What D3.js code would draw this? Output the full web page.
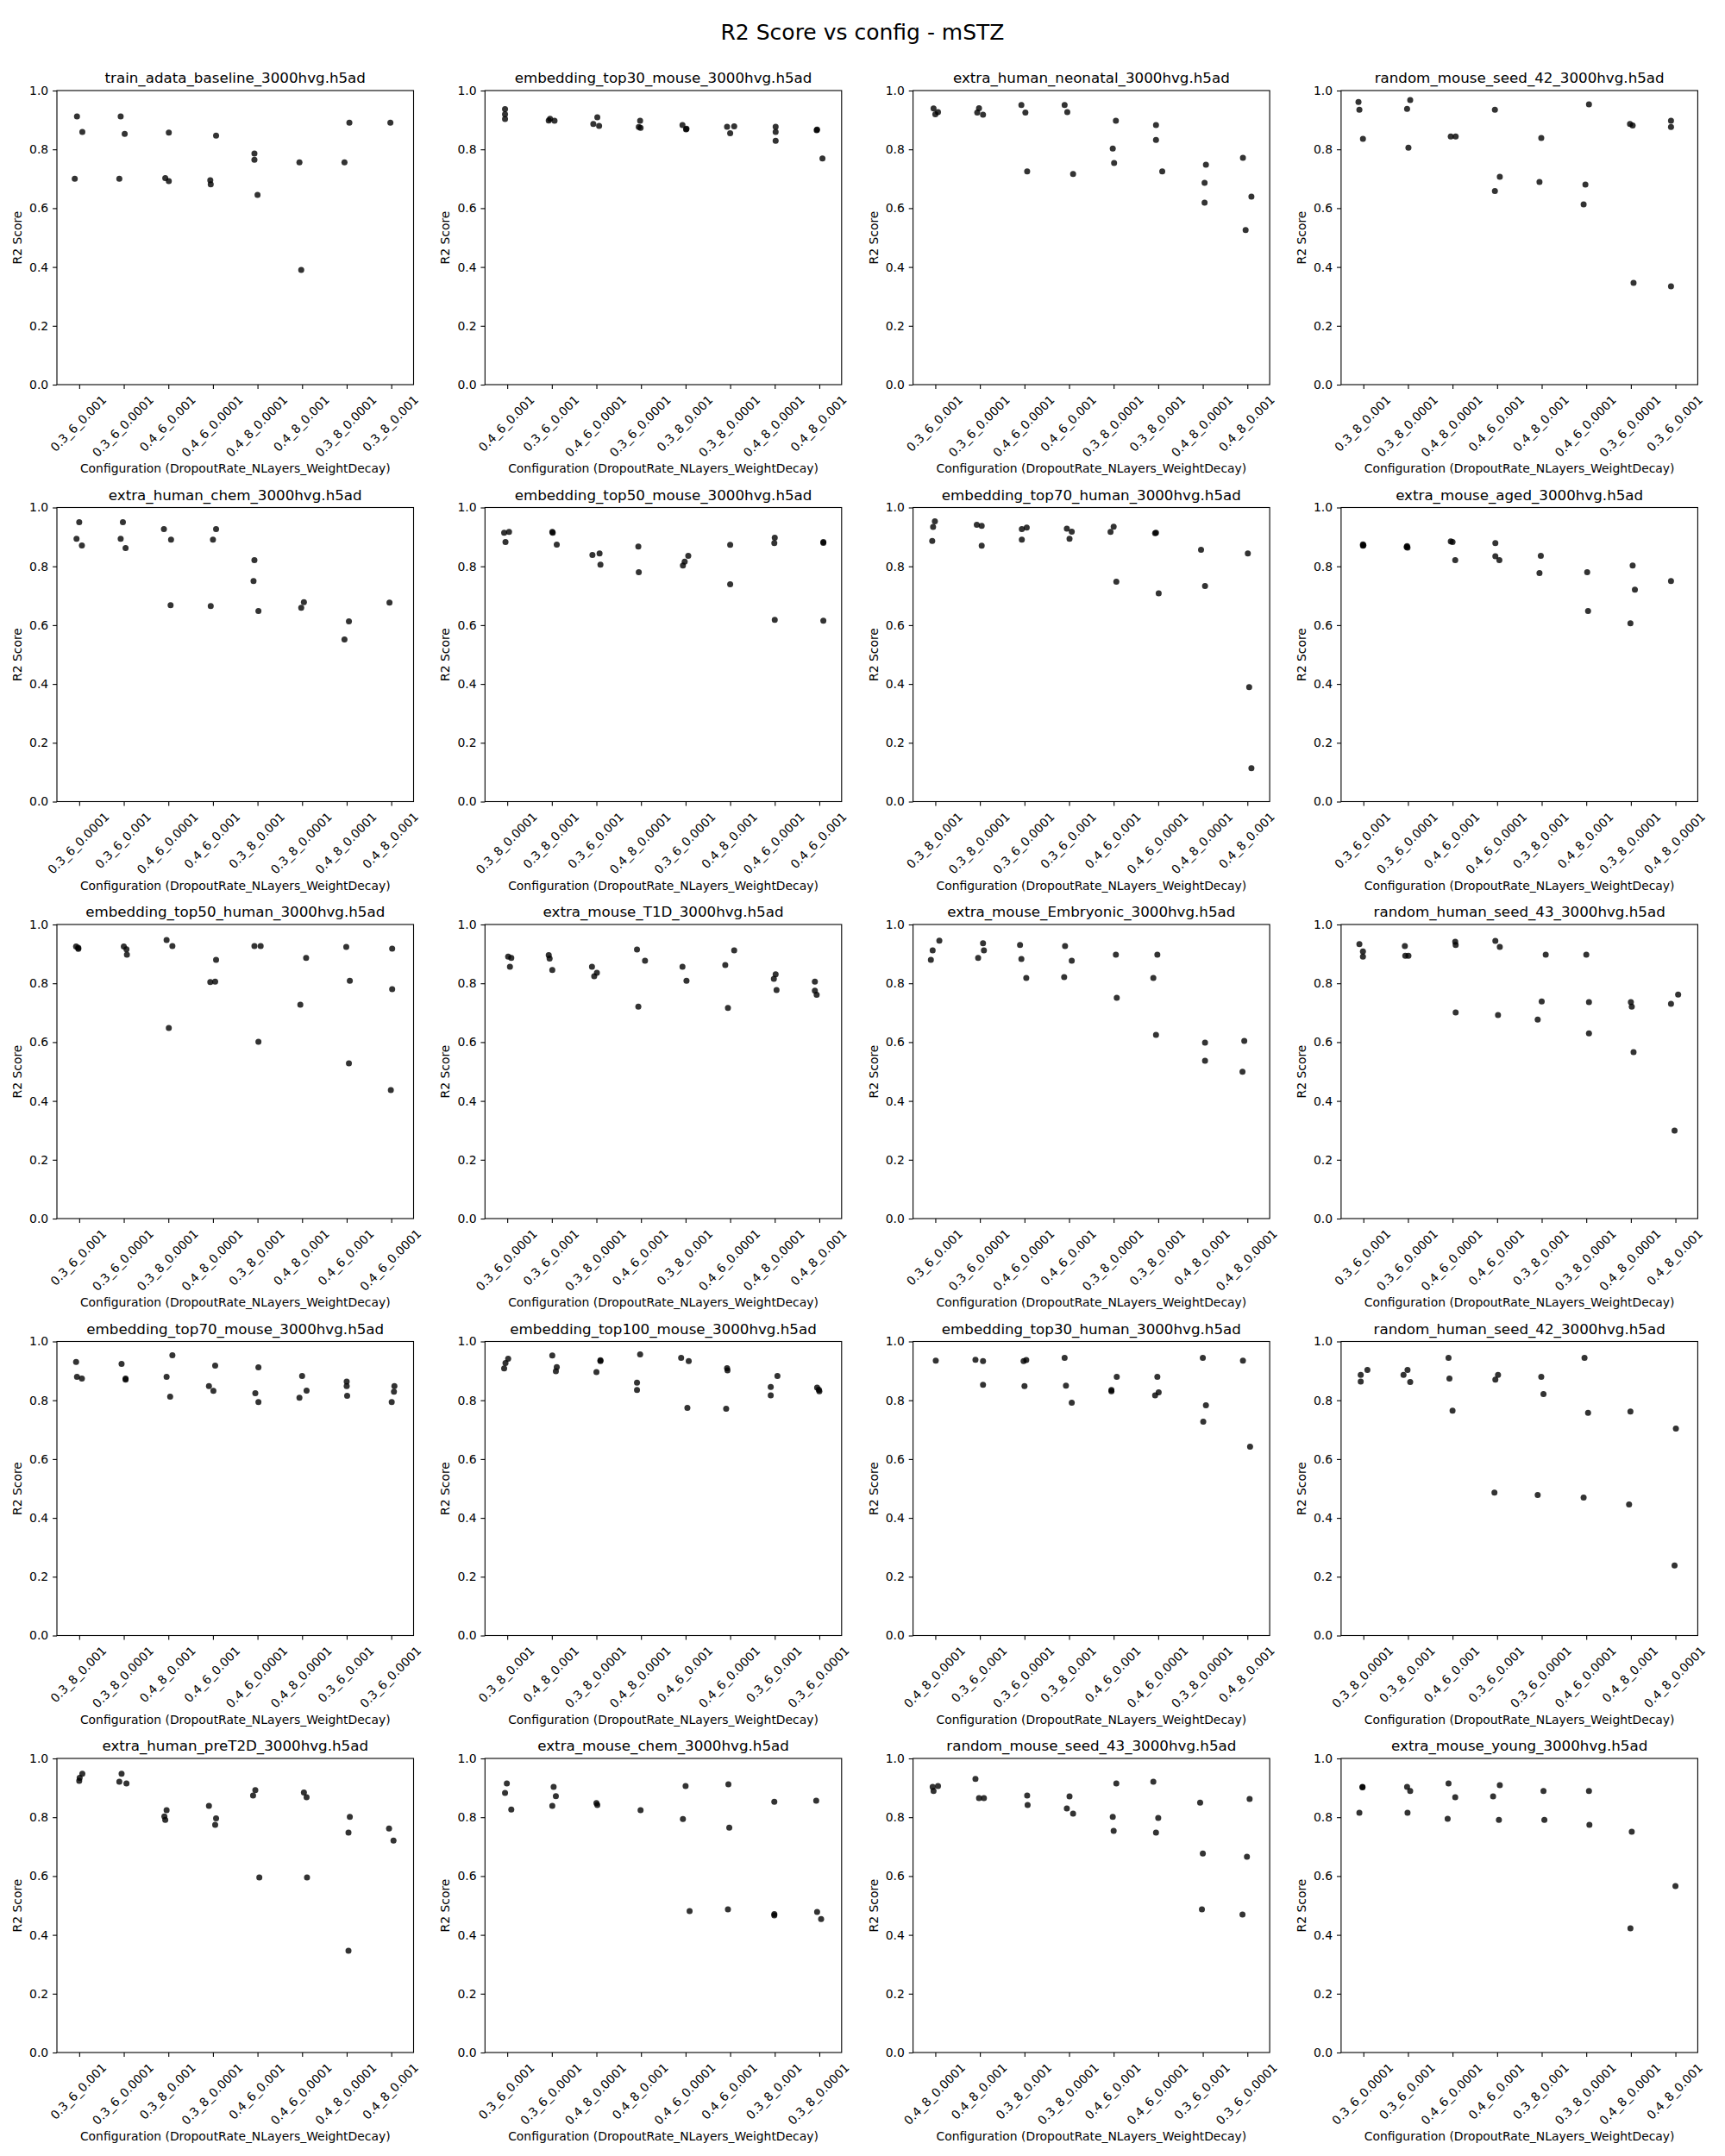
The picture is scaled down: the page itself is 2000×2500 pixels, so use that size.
<!DOCTYPE html>
<html><head><meta charset="utf-8">
<script src="https://cdn.jsdelivr.net/npm/d3@7"></script>
<style>
body{margin:0;background:#fff}
svg{display:block}
text{font-family:"DejaVu Sans",sans-serif;fill:#000}
</style>
</head><body>
<svg id="chart" width="2000" height="2500"></svg>
<script>
const figureTitle = "R2 Score vs config - mSTZ";
const xAxisLabel = "Configuration (DropoutRate_NLayers_WeightDecay)";
const yAxisLabel = "R2 Score";
const yTicks = [0, 0.2, 0.4, 0.6, 0.8, 1.0];

const panelTitles = [
  "train_adata_baseline_3000hvg.h5ad","embedding_top30_mouse_3000hvg.h5ad","extra_human_neonatal_3000hvg.h5ad","random_mouse_seed_42_3000hvg.h5ad",
  "extra_human_chem_3000hvg.h5ad","embedding_top50_mouse_3000hvg.h5ad","embedding_top70_human_3000hvg.h5ad","extra_mouse_aged_3000hvg.h5ad",
  "embedding_top50_human_3000hvg.h5ad","extra_mouse_T1D_3000hvg.h5ad","extra_mouse_Embryonic_3000hvg.h5ad","random_human_seed_43_3000hvg.h5ad",
  "embedding_top70_mouse_3000hvg.h5ad","embedding_top100_mouse_3000hvg.h5ad","embedding_top30_human_3000hvg.h5ad","random_human_seed_42_3000hvg.h5ad",
  "extra_human_preT2D_3000hvg.h5ad","extra_mouse_chem_3000hvg.h5ad","random_mouse_seed_43_3000hvg.h5ad","extra_mouse_young_3000hvg.h5ad"
];

const panelCategories = [
  ["0.3_6_0.001","0.3_6_0.0001","0.4_6_0.001","0.4_6_0.0001","0.4_8_0.0001","0.4_8_0.001","0.3_8_0.0001","0.3_8_0.001"],
  ["0.4_6_0.001","0.3_6_0.001","0.4_6_0.0001","0.3_6_0.0001","0.3_8_0.001","0.3_8_0.0001","0.4_8_0.0001","0.4_8_0.001"],
  ["0.3_6_0.001","0.3_6_0.0001","0.4_6_0.0001","0.4_6_0.001","0.3_8_0.0001","0.3_8_0.001","0.4_8_0.0001","0.4_8_0.001"],
  ["0.3_8_0.001","0.3_8_0.0001","0.4_8_0.0001","0.4_6_0.001","0.4_8_0.001","0.4_6_0.0001","0.3_6_0.0001","0.3_6_0.001"],
  ["0.3_6_0.0001","0.3_6_0.001","0.4_6_0.0001","0.4_6_0.001","0.3_8_0.001","0.3_8_0.0001","0.4_8_0.0001","0.4_8_0.001"],
  ["0.3_8_0.0001","0.3_8_0.001","0.3_6_0.001","0.4_8_0.0001","0.3_6_0.0001","0.4_8_0.001","0.4_6_0.0001","0.4_6_0.001"],
  ["0.3_8_0.001","0.3_8_0.0001","0.3_6_0.0001","0.3_6_0.001","0.4_6_0.001","0.4_6_0.0001","0.4_8_0.0001","0.4_8_0.001"],
  ["0.3_6_0.001","0.3_6_0.0001","0.4_6_0.001","0.4_6_0.0001","0.3_8_0.001","0.4_8_0.001","0.3_8_0.0001","0.4_8_0.0001"],
  ["0.3_6_0.001","0.3_6_0.0001","0.3_8_0.0001","0.4_8_0.0001","0.3_8_0.001","0.4_8_0.001","0.4_6_0.001","0.4_6_0.0001"],
  ["0.3_6_0.0001","0.3_6_0.001","0.3_8_0.0001","0.4_6_0.001","0.3_8_0.001","0.4_6_0.0001","0.4_8_0.0001","0.4_8_0.001"],
  ["0.3_6_0.001","0.3_6_0.0001","0.4_6_0.0001","0.4_6_0.001","0.3_8_0.0001","0.3_8_0.001","0.4_8_0.001","0.4_8_0.0001"],
  ["0.3_6_0.001","0.3_6_0.0001","0.4_6_0.0001","0.4_6_0.001","0.3_8_0.001","0.3_8_0.0001","0.4_8_0.0001","0.4_8_0.001"],
  ["0.3_8_0.001","0.3_8_0.0001","0.4_8_0.001","0.4_6_0.001","0.4_6_0.0001","0.4_8_0.0001","0.3_6_0.001","0.3_6_0.0001"],
  ["0.3_8_0.001","0.4_8_0.001","0.3_8_0.0001","0.4_8_0.0001","0.4_6_0.001","0.4_6_0.0001","0.3_6_0.001","0.3_6_0.0001"],
  ["0.4_8_0.0001","0.3_6_0.001","0.3_6_0.0001","0.3_8_0.001","0.4_6_0.001","0.4_6_0.0001","0.3_8_0.0001","0.4_8_0.001"],
  ["0.3_8_0.0001","0.3_8_0.001","0.4_6_0.001","0.3_6_0.001","0.3_6_0.0001","0.4_6_0.0001","0.4_8_0.001","0.4_8_0.0001"],
  ["0.3_6_0.001","0.3_6_0.0001","0.3_8_0.001","0.3_8_0.0001","0.4_6_0.001","0.4_6_0.0001","0.4_8_0.0001","0.4_8_0.001"],
  ["0.3_6_0.001","0.3_6_0.0001","0.4_8_0.0001","0.4_8_0.001","0.4_6_0.0001","0.4_6_0.001","0.3_8_0.001","0.3_8_0.0001"],
  ["0.4_8_0.0001","0.4_8_0.001","0.3_8_0.001","0.3_8_0.0001","0.4_6_0.001","0.4_6_0.0001","0.3_6_0.001","0.3_6_0.0001"],
  ["0.3_6_0.0001","0.3_6_0.001","0.4_6_0.0001","0.4_6_0.001","0.3_8_0.001","0.3_8_0.0001","0.4_8_0.0001","0.4_8_0.001"]
];

// R2 values per panel, per configuration
const panelValues = [
  [[0.912,0.859,0.700],[0.912,0.853,0.700],[0.857,0.702,0.692],[0.847,0.695,0.681],[0.786,0.765,0.645],[0.756,0.390],[0.891,0.756],[0.891]],
  [[0.937,0.919,0.903],[0.898,0.897,0.904],[0.909,0.886,0.880],[0.897,0.876,0.873],[0.883,0.868,0.870],[0.877,0.878,0.855],[0.877,0.859,0.829],[0.867,0.865,0.769]],
  [[0.939,0.919,0.927],[0.940,0.925,0.918],[0.951,0.925,0.725],[0.951,0.927,0.716],[0.897,0.803,0.754],[0.883,0.832,0.725],[0.748,0.686,0.619],[0.771,0.639,0.526]],
  [[0.961,0.935,0.836],[0.968,0.938,0.806],[0.844,0.844],[0.935,0.707,0.658],[0.839,0.689],[0.953,0.680,0.613],[0.886,0.881,0.346],[0.897,0.876,0.334]],
  [[0.950,0.894,0.871],[0.950,0.894,0.862],[0.927,0.891,0.668],[0.927,0.891,0.665],[0.821,0.750,0.648],[0.678,0.659],[0.613,0.551],[0.677]],
  [[0.914,0.917,0.883],[0.917,0.914,0.874],[0.839,0.844,0.806],[0.867,0.780],[0.803,0.816,0.836],[0.873,0.739],[0.897,0.879,0.618],[0.883,0.880,0.615]],
  [[0.953,0.934,0.886],[0.941,0.938,0.870],[0.927,0.932,0.891],[0.928,0.918,0.894],[0.935,0.917,0.748],[0.914,0.913,0.708],[0.856,0.733],[0.844,0.389,0.114]],
  [[0.875,0.872,0.870],[0.869,0.864,0.866],[0.885,0.883,0.821],[0.879,0.834,0.821],[0.836,0.777],[0.780,0.648],[0.803,0.721,0.606],[0.750]],
  [[0.925,0.921,0.917],[0.925,0.916,0.897],[0.947,0.927,0.648],[0.804,0.806,0.880],[0.927,0.927,0.601],[0.886,0.727],[0.924,0.809,0.528],[0.918,0.780,0.437]],
  [[0.891,0.886,0.856],[0.896,0.884,0.845],[0.856,0.836,0.824],[0.915,0.877,0.721],[0.856,0.809],[0.862,0.912,0.716],[0.831,0.815,0.777],[0.806,0.775,0.761]],
  [[0.945,0.912,0.880],[0.936,0.912,0.886],[0.930,0.883,0.818],[0.927,0.877,0.821],[0.897,0.751],[0.897,0.818,0.625],[0.598,0.537],[0.604,0.499]],
  [[0.933,0.908,0.891],[0.927,0.894,0.894],[0.941,0.930,0.701],[0.944,0.924,0.692],[0.897,0.738,0.677],[0.897,0.736,0.630],[0.736,0.721,0.566],[0.730,0.762,0.299]],
  [[0.930,0.880,0.874],[0.924,0.874,0.870],[0.953,0.880,0.812],[0.918,0.848,0.832],[0.912,0.824,0.794],[0.883,0.833,0.809],[0.864,0.848,0.815],[0.848,0.829,0.794]],
  [[0.941,0.927,0.908],[0.952,0.913,0.899],[0.936,0.933,0.896],[0.956,0.860,0.835],[0.944,0.933,0.774],[0.909,0.902,0.771],[0.883,0.845,0.817],[0.843,0.836,0.831]],
  [[0.935],[0.938,0.933,0.853],[0.933,0.937,0.848],[0.944,0.850,0.792],[0.835,0.831,0.880],[0.880,0.817,0.827],[0.944,0.783,0.727],[0.935,0.642]],
  [[0.886,0.864,0.903],[0.886,0.903,0.862],[0.944,0.874,0.765],[0.870,0.886,0.486],[0.880,0.821,0.478],[0.944,0.757,0.469],[0.762,0.446],[0.704,0.238]],
  [[0.948,0.934,0.924],[0.948,0.921,0.915],[0.824,0.803,0.791],[0.839,0.796,0.774],[0.892,0.874,0.595],[0.884,0.868,0.595],[0.801,0.748,0.346],[0.762,0.721]],
  [[0.915,0.883,0.826],[0.903,0.872,0.839],[0.848,0.842],[0.824],[0.906,0.794,0.481],[0.912,0.765,0.487],[0.853,0.471,0.466],[0.856,0.478,0.454]],
  [[0.903,0.906,0.889],[0.930,0.865,0.865],[0.874,0.842],[0.871,0.830,0.812],[0.915,0.801,0.754],[0.921,0.798,0.748],[0.850,0.677,0.487],[0.862,0.666,0.469]],
  [[0.903,0.902,0.815],[0.903,0.889,0.815],[0.915,0.868,0.795],[0.909,0.871,0.791],[0.889,0.791],[0.889,0.774],[0.751,0.422],[0.566]]
];

// horizontal strip jitter of each point, in category units
const panelJitter = [
  [[-0.05,0.07,-0.10],[-0.07,0.02,-0.10],[0.01,-0.07,0.01],[0.07,-0.06,-0.05],[-0.07,-0.07,0.00],[-0.06,-0.02],[0.06,-0.05],[-0.02]],
  [[-0.05,-0.05,-0.05],[-0.07,0.06,-0.04],[0.02,-0.07,0.06],[-0.02,-0.05,-0.01],[-0.07,0.01,0.02],[-0.07,0.09,0.00],[0.02,0.02,0.02],[-0.05,-0.06,0.07]],
  [[-0.04,0.00,0.06],[-0.02,-0.06,0.07],[-0.07,0.02,0.06],[-0.10,-0.04,0.09],[0.05,-0.02,0.01],[-0.05,-0.05,0.09],[0.07,0.04,0.04],[-0.10,0.09,-0.04]],
  [[-0.11,-0.09,-0.01],[0.05,-0.02,0.01],[-0.04,0.07],[-0.05,0.06,-0.05],[-0.01,-0.05],[0.06,-0.02,-0.06],[-0.02,0.04,0.06],[-0.10,-0.10,-0.10]],
  [[0.00,-0.06,0.06],[-0.02,-0.07,0.04],[-0.10,0.06,0.05],[0.07,0.00,-0.05],[-0.07,-0.09,0.02],[0.04,-0.02],[0.05,-0.05],[-0.04]],
  [[-0.07,0.04,-0.04],[0.01,0.02,0.11],[-0.09,0.07,0.09],[-0.06,-0.05],[-0.06,-0.02,0.06],[0.00,0.00],[0.00,-0.01,0.00],[0.09,0.09,0.09]],
  [[-0.01,-0.05,-0.07],[-0.07,0.04,0.04],[-0.06,0.05,-0.06],[-0.05,0.06,0.01],[0.00,-0.07,0.06],[-0.05,-0.07,0.01],[-0.04,0.05],[0.01,0.04,0.09]],
  [[-0.01,0.00,-0.01],[-0.02,-0.01,-0.03],[-0.04,0.00,0.06],[-0.04,-0.04,0.05],[-0.02,-0.05],[0.02,0.04],[0.04,0.09,-0.01],[-0.10]],
  [[-0.07,-0.02,-0.02],[0.00,0.06,0.07],[-0.04,0.09,0.01],[-0.06,0.05,0.07],[-0.07,0.07,0.02],[0.09,-0.04],[-0.01,0.07,0.05],[0.02,0.02,-0.01]],
  [[0.02,0.09,0.06],[-0.07,-0.05,0.01],[-0.10,0.01,-0.05],[-0.09,0.09,-0.06],[-0.07,0.02],[-0.11,0.09,-0.05],[0.02,-0.02,0.04],[-0.10,-0.10,-0.06]],
  [[0.09,-0.06,-0.10],[0.07,0.09,-0.04],[-0.10,-0.07,0.04],[-0.09,0.06,-0.11],[0.05,0.07],[-0.02,-0.11,-0.05],[0.05,0.05],[-0.07,-0.11]],
  [[-0.09,-0.01,-0.01],[-0.07,-0.06,0.01],[0.06,0.07,0.07],[-0.04,0.06,0.02],[0.09,0.00,-0.09],[0.00,0.06,0.06],[0.00,0.02,0.06],[-0.10,0.06,-0.02]],
  [[-0.07,-0.05,0.06],[-0.05,0.04,0.04],[0.09,-0.04,0.04],[0.05,-0.09,0.01],[0.02,-0.05,0.02],[0.00,0.10,-0.06],[0.00,0.00,0.01],[0.07,0.06,0.01]],
  [[0.02,-0.04,-0.07],[0.01,0.11,0.09],[0.09,0.09,0.00],[-0.02,-0.09,-0.09],[-0.10,0.07,0.04],[-0.07,-0.06,-0.09],[0.06,-0.09,-0.09],[-0.05,-0.01,0.00]],
  [[0.01],[-0.10,0.07,0.07],[-0.02,0.04,0.00],[-0.10,-0.07,0.06],[-0.05,-0.05,0.07],[-0.02,-0.07,0.01],[0.00,0.07,0.01],[-0.10,0.06]],
  [[-0.06,-0.06,0.09],[-0.10,-0.01,0.05],[-0.09,-0.07,0.00],[-0.04,0.02,-0.06],[-0.01,0.04,-0.09],[-0.04,0.04,-0.06],[-0.01,-0.04],[0.01,-0.02]],
  [[0.07,0.01,0.00],[-0.05,-0.10,0.06],[-0.04,-0.09,-0.07],[-0.09,0.07,0.05],[-0.05,-0.10,0.04],[0.04,0.10,0.11],[0.07,0.04,0.04],[-0.05,0.05]],
  [[-0.01,-0.05,0.09],[0.04,0.09,0.01],[0.00,0.02],[-0.01],[0.00,-0.06,0.09],[-0.04,-0.02,-0.05],[-0.01,-0.01,-0.01],[-0.07,-0.05,0.04]],
  [[-0.06,0.06,-0.04],[-0.10,-0.02,0.09],[0.06,0.07],[0.01,-0.05,0.09],[0.06,-0.02,0.00],[-0.11,0.00,-0.05],[-0.06,0.00,-0.02],[0.05,-0.01,-0.11]],
  [[-0.02,-0.02,-0.09],[-0.02,0.05,-0.01],[-0.09,0.06,-0.11],[0.06,-0.09,0.04],[0.04,0.06],[0.06,0.07],[0.02,-0.01],[0.00]]
];

// ---------- layout ----------
const nCols = 4;
const axLeft0 = 66, colStep = 496.3, axW = 413.5;
const axTop0 = 105, rowStep = 483.5, axH = 341;
const tickFont = 13.9, titleFont = 16.7, labelFont = 13.9;

const svg = d3.select("#chart");
svg.append("rect").attr("width", 2000).attr("height", 2500).attr("fill", "#fff");

svg.append("text")
  .attr("x", 1000).attr("y", 46)
  .attr("text-anchor", "middle")
  .style("font-size", "25px")
  .text(figureTitle);

panelTitles.forEach((title, p) => {
  const r = Math.floor(p / nCols), c = p % nCols;
  const left = axLeft0 + c * colStep, top = axTop0 + r * rowStep;
  const cats = panelCategories[p];
  const x = d3.scaleLinear().domain([-0.5, cats.length - 0.5]).range([left, left + axW]);
  const y = d3.scaleLinear().domain([0, 1]).range([top + axH, top]);
  const g = svg.append("g");

  // y axis
  const ya = g.append("g").attr("transform", `translate(${left},0)`)
    .call(d3.axisLeft(y).tickValues(yTicks).tickFormat(d3.format(".1f")).tickSize(4.9).tickPadding(4.9));
  ya.select(".domain").remove();
  ya.selectAll(".tick line").attr("stroke", "#000").attr("stroke-width", 1.1);
  ya.selectAll(".tick text").style("font-size", tickFont + "px").style("font-family", "DejaVu Sans").attr("fill", "#000");

  // x axis
  const xa = g.append("g").attr("transform", `translate(0,${top + axH})`)
    .call(d3.axisBottom(x).tickValues(d3.range(cats.length)).tickFormat(i => cats[i]).tickSize(4.9));
  xa.select(".domain").remove();
  xa.selectAll(".tick line").attr("stroke", "#000").attr("stroke-width", 1.1);
  const lineH = 16.2;
  xa.selectAll(".tick text")
    .style("font-size", tickFont + "px").style("font-family", "DejaVu Sans").attr("fill", "#000")
    .attr("dy", null).attr("y", null)
    .attr("text-anchor", "middle")
    .attr("dominant-baseline", "central")
    .each(function() {
      const L = this.getComputedTextLength();
      const half = (L + lineH) / (2 * Math.SQRT2);
      d3.select(this).attr("transform", `translate(-1.5,${9.3 + half}) rotate(-45)`);
    });

  // points
  g.append("g").selectAll("circle")
    .data(panelValues[p].flatMap((vals, i) => vals.map((v, k) => ({i, v, j: panelJitter[p][i][k]}))))
    .join("circle")
    .attr("cx", d => x(d.i + d.j))
    .attr("cy", d => y(d.v))
    .attr("r", 3.5)
    .attr("fill", "#000")
    .attr("fill-opacity", 0.8);

  // spines
  g.append("rect")
    .attr("x", left).attr("y", top).attr("width", axW).attr("height", axH)
    .attr("fill", "none").attr("stroke", "#000").attr("stroke-width", 1.1);

  // title
  g.append("text")
    .attr("x", left + axW / 2).attr("y", top - 9)
    .attr("text-anchor", "middle")
    .style("font-size", titleFont + "px")
    .text(title);

  // axis labels
  g.append("text")
    .attr("x", left + axW / 2).attr("y", top + axH + 102)
    .attr("text-anchor", "middle")
    .style("font-size", labelFont + "px")
    .text(xAxisLabel);

  g.append("text")
    .attr("transform", `translate(${left - 46},${top + axH / 2}) rotate(-90)`)
    .attr("text-anchor", "middle")
    .attr("dominant-baseline", "central")
    .style("font-size", labelFont + "px")
    .text(yAxisLabel);
});
</script>
</body></html>
